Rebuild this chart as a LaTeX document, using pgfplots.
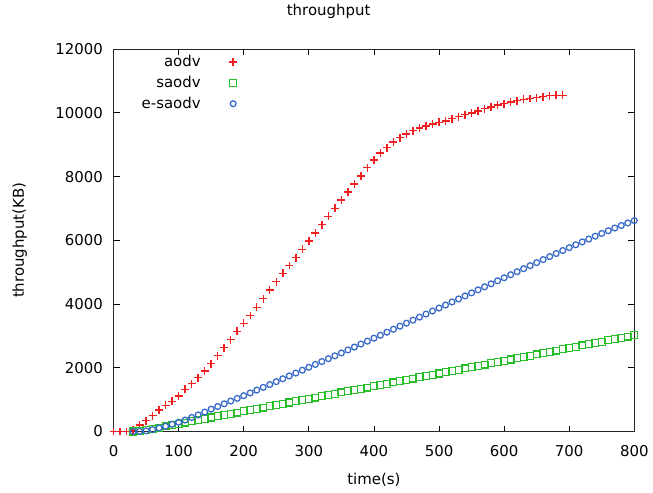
\documentclass[border=0pt]{standalone}
\usepackage{fontspec}
\setmainfont{DejaVu Sans}
\usepackage{pgfplots}
\usepackage{pgfplotstable}
\pgfplotsset{compat=1.18}

\definecolor{cRed}{RGB}{240,30,30}
\definecolor{cGreen}{RGB}{40,190,40}
\definecolor{cBlue}{RGB}{55,105,200}

% throughput (KB) against time (s)
\pgfplotstableread{
t v
0 0
10 0
20 0
30 50
40 200
50 340
60 500
70 680
80 820
90 950
100 1110
110 1320
120 1500
130 1690
140 1900
150 2130
160 2380
170 2630
180 2880
190 3140
200 3390
210 3640
220 3900
230 4170
240 4440
250 4700
260 4960
270 5210
280 5460
290 5720
300 5980
310 6230
320 6490
330 6750
340 7000
350 7260
360 7520
370 7770
380 8020
390 8280
400 8520
410 8740
420 8910
430 9090
440 9220
450 9340
460 9440
470 9530
480 9590
490 9650
500 9700
510 9750
520 9820
530 9880
540 9940
550 10000
560 10060
570 10130
580 10190
590 10240
600 10290
610 10340
620 10380
630 10420
640 10450
650 10480
660 10510
670 10540
680 10550
690 10550
}\aodv

\pgfplotstableread{
t v
30 0
40 10
50 40
60 80
70 120
80 160
90 200
100 240
110 280
120 320
130 360
140 400
150 440
160 475
170 515
180 555
190 595
200 635
210 675
220 715
230 750
240 790
250 830
260 870
270 910
280 950
290 990
300 1030
310 1065
320 1105
330 1145
340 1185
350 1225
360 1265
370 1305
380 1345
390 1380
400 1420
410 1460
420 1500
430 1540
440 1580
450 1620
460 1660
470 1700
480 1740
490 1780
500 1820
510 1860
520 1900
530 1940
540 1980
550 2020
560 2060
570 2100
580 2140
590 2180
600 2220
610 2260
620 2300
630 2340
640 2380
650 2420
660 2460
670 2500
680 2540
690 2580
700 2620
710 2660
720 2700
730 2740
740 2780
750 2820
760 2860
770 2900
780 2940
790 2980
800 3020
}\saodv

\pgfplotstableread{
t v
30 0
40 5
50 20
60 60
70 110
80 165
90 225
100 290
110 360
120 440
130 520
140 610
150 700
160 785
170 870
180 955
190 1040
200 1125
210 1210
220 1300
230 1385
240 1475
250 1565
260 1655
270 1745
280 1835
290 1925
300 2015
310 2105
320 2195
330 2285
340 2375
350 2465
360 2560
370 2650
380 2745
390 2835
400 2930
410 3020
420 3115
430 3210
440 3305
450 3400
460 3495
470 3590
480 3685
490 3780
500 3875
510 3970
520 4065
530 4160
540 4255
550 4350
560 4445
570 4540
580 4635
590 4730
600 4825
610 4920
620 5015
630 5110
640 5205
650 5300
660 5395
670 5490
680 5585
690 5680
700 5770
710 5860
720 5950
730 6040
740 6130
750 6215
760 6300
770 6385
780 6465
790 6545
800 6620
}\esaodv

\begin{document}
\begin{tikzpicture}
\begin{axis}[
  scale only axis, width=392.25pt, height=288pt,
  xmin=0, xmax=800, ymin=0, ymax=12000,
  xtick={0,100,...,800}, ytick={0,2000,...,12000},
  scaled ticks=false,
  /pgf/number format/1000 sep={},
  /pgf/number format/assume math mode=true,
  font=\fontsize{11.25}{13.5}\selectfont,
  tick label style={font=\fontsize{11.25}{13.5}\selectfont},
  tick align=inside, major tick length=4.5pt,
  tick style={black, line width=0.6pt},
  axis line style={black!85, line width=0.75pt},
  xticklabel style={yshift=-6.75pt},
  yticklabel style={xshift=-4.5pt},
  clip=false,
  title={throughput},
  title style={at={(0.413,1.0664)}, anchor=base},
  xlabel={time(s)},
  xlabel style={at={(0.5,-0.138)}, anchor=base},
  ylabel={throughput(KB)},
  ylabel style={at={(-0.172,0.5)}, anchor=base},
  legend cell align=right, legend plot pos=right,
  legend style={at={(0.0485,0.992)}, anchor=north west, draw=none, fill=none,
    inner sep=0pt, row sep=1.75pt, column sep=19.5pt,
    nodes={inner sep=2pt}, font=\fontsize{11.25}{13.5}\selectfont},
]
\addplot[only marks, mark=+, color=cRed, mark size=3pt, mark options={line width=1.1pt}]
  table[x=t, y=v] {\aodv};
\addplot[only marks, mark=square, color=cGreen, mark size=2.6pt, mark options={line width=0.85pt}]
  table[x=t, y=v] {\saodv};
\addplot[only marks, mark=o, color=cBlue, mark size=2.2pt, mark options={line width=0.95pt}]
  table[x=t, y=v] {\esaodv};
\legend{aodv, saodv, e-saodv}
\path (rel axis cs:-0.218,-0.1589) rectangle (rel axis cs:1.0306,1.1224);
\end{axis}
\end{tikzpicture}
\end{document}
